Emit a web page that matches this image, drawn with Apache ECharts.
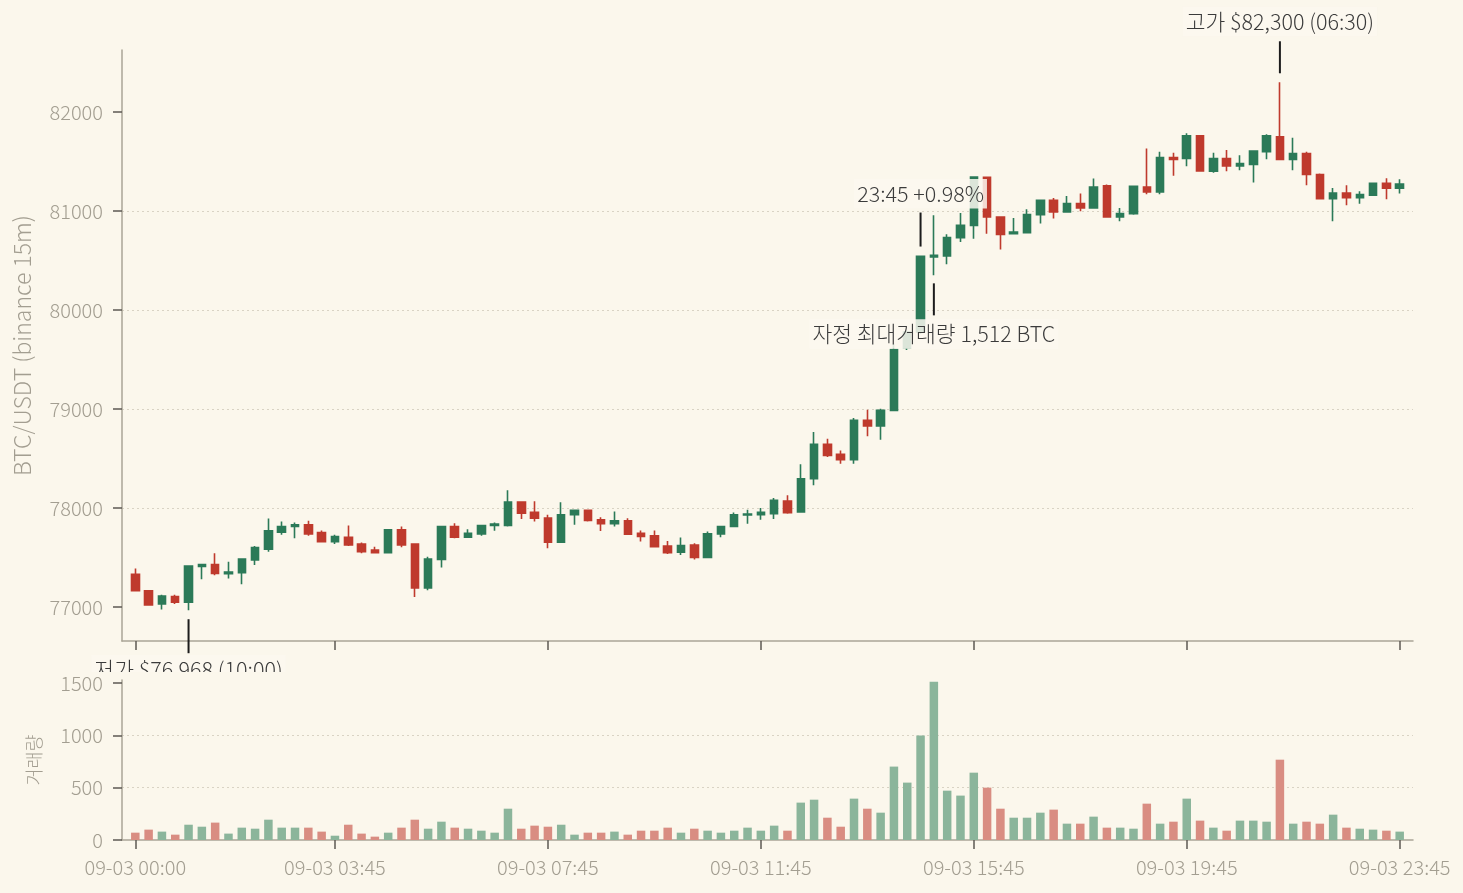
<!DOCTYPE html>
<html>
<head>
<meta charset="utf-8">
<script src="https://cdn.jsdelivr.net/npm/echarts@6/dist/echarts.min.js"></script>
<style>
  html, body { margin: 0; padding: 0; background: #fbf7ec; }
  #chart { width: 1463px; height: 893px; }
</style>
</head>
<body>
<div id="chart"></div>
<script>
// BTC/USDT 15m, 09-03 00:00 .. 23:45 (96 bars)
var openP = [77330,77165,77030,77105,77050,77410,77430,77336,77346,77475,77583,77756,77814,77831,77753,77661,
  77705,77637,77576,77549,77780,77637,77193,77481,77814,77705,77739,77825,77824,78061,77956,77898,
  77654,77932,77976,77881,77841,77871,77746,77719,77617,77553,77627,77502,77739,77814,77929,77932,
  77943,78071,77960,78296,78643,78542,78488,78886,78828,78986,79620,79778,80535,80545,80731,80855,
  81340,80940,80771,80781,80963,81108,80990,81074,81030,81254,80940,80973,81243,81193,81540,81530,
  81760,81402,81530,81456,81470,81600,81750,81520,81581,81368,81125,81182,81135,81160,81280,81230];
var closeP = [77165,77020,77110,77050,77414,77430,77340,77353,77485,77600,77770,77814,77831,77739,77661,77712,
  77627,77559,77549,77780,77627,77193,77485,77814,77705,77746,77824,77837,78061,77949,77898,77654,
  77932,77976,77875,77841,77871,77736,77712,77610,77549,77620,77502,77739,77814,77932,77939,77956,
  78077,77953,78296,78643,78532,78488,78886,78828,78986,79600,79778,80542,80552,80731,80855,81344,
  80940,80764,80787,80963,81108,80990,81074,81030,81243,80940,80973,81250,81193,81540,81520,81760,
  81405,81530,81456,81480,81605,81760,81520,81581,81368,81125,81182,81135,81165,81280,81230,81273];
var lowP = [77160,77015,76975,77030,76968,77280,77322,77288,77231,77424,77559,77729,77695,77719,77651,77637,
  77617,77542,77542,77549,77603,77102,77169,77400,77695,77703,77719,77770,77814,77888,77864,77593,
  77654,77831,77864,77769,77814,77729,77661,77603,77536,77525,77481,77502,77705,77814,77841,77881,
  77888,77943,77960,78229,78515,78448,78448,78724,78690,78986,79596,79760,80350,80461,80687,80720,
  80770,80612,80764,80781,80873,80923,80990,80997,81030,80940,80896,80963,81170,81170,81355,81452,
  81405,81385,81402,81412,81287,81523,81520,81412,81260,81125,80896,81057,81074,81160,81118,81176];
var highP = [77390,77170,77125,77125,77420,77432,77542,77458,77488,77617,77895,77864,77854,77871,77773,77729,
  77824,77651,77610,77782,77814,77640,77508,77816,77847,77786,77826,77854,78180,78063,78068,77932,
  78058,77978,77983,77908,77966,77898,77773,77773,77668,77702,77644,77763,77820,77956,77983,78000,
  78102,78128,78441,78768,78700,78582,78909,78993,79003,79660,79790,80550,80956,80764,80980,81350,
  81345,80942,80929,81017,81110,81132,81152,81176,81328,81267,81030,81252,81632,81598,81588,81784,
  81767,81588,81615,81564,81612,81774,82300,81740,81598,81378,81233,81260,81200,81282,81330,81320];
var volume = [70,99,80,51,146,127,166,61,118,108,194,118,118,118,80,41,
  146,61,32,70,118,194,108,175,118,108,89,70,299,108,137,127,
  146,51,70,70,80,51,89,89,118,70,108,89,70,89,118,89,
  137,89,357,385,213,127,395,299,261,701,548,997,1512,471,424,643,
  500,299,213,213,261,290,156,156,223,118,118,108,347,156,175,395,
  185,118,89,185,185,175,767,156,175,156,242,118,108,99,89,80];

var xTickIdx = [0, 15, 31, 47, 63, 79, 95];
var xTickLabels = ['09-03 00:00', '09-03 03:45', '09-03 07:45', '09-03 11:45', '09-03 15:45', '09-03 19:45', '09-03 23:45'];
var priceTicks = [77000, 78000, 79000, 80000, 81000, 82000];
var volTicks = [0, 500, 1000, 1500];

var BG = '#fbf7ec';
var UP = '#2b7a58';
var DOWN = '#bf3a2d';
var UP_VOL = '#8bb59b';
var DOWN_VOL = '#d98d82';
var FONT = "'Noto Sans CJK KR', 'Noto Sans', sans-serif";
var TICK_TXT = '#a39e91';
var AXIS_LINE = '#aaa597';
var NOTE = '#3b3b3b';

var candles = [];
var vols = [];
for (var i = 0; i < openP.length; i++) {
  candles.push([i, openP[i], closeP[i], lowP[i], highP[i]]);
  vols.push({
    value: [i, volume[i]],
    itemStyle: { color: closeP[i] >= openP[i] ? UP_VOL : DOWN_VOL }
  });
}

function note(coord, text, above, offs, len, dist) {
  return {
    coord: coord,
    symbol: 'rect',
    symbolSize: [2, len],
    symbolOffset: [0, above ? -offs : offs],
    itemStyle: { color: '#1c1c1c' },
    label: {
      show: true,
      position: above ? 'top' : 'bottom',
      distance: dist,
      formatter: text,
      color: NOTE,
      fontFamily: FONT,
      fontWeight: 300,
      fontSize: 21.5,
      backgroundColor: 'rgba(251,248,240,0.85)',
      padding: [4, 3, 4, 3]
    }
  };
}

var plain = function (v) { return String(v); };

var chart = echarts.init(document.getElementById('chart'), null, { renderer: 'canvas' });

var option = {
  backgroundColor: BG,
  animation: false,
  textStyle: { fontFamily: FONT },
  graphic: [{
    type: 'rect',
    z: 6,
    silent: true,
    shape: { x: 0, y: 672, width: 1463, height: 221 },
    style: { fill: BG }
  }],
  grid: [
    { left: 122, right: 50, top: 50, height: 591, outerBoundsMode: 'none' },
    { left: 122, right: 50, top: 680, height: 160, outerBoundsMode: 'none' }
  ],
  xAxis: [{
    type: 'value', gridIndex: 0, min: -1, max: 96,
    axisLine: { show: true, onZero: false, lineStyle: { color: AXIS_LINE, width: 1.5 } },
    axisTick: { show: true, length: 9, customValues: xTickIdx, lineStyle: { color: '#5d5a53', width: 1.5 } },
    axisLabel: { show: false },
    splitLine: { show: false }
  }, {
    type: 'value', gridIndex: 1, min: -1, max: 96, z: 10,
    axisLine: { show: true, onZero: false, lineStyle: { color: AXIS_LINE, width: 1.5 } },
    axisTick: { show: true, length: 9, customValues: xTickIdx, lineStyle: { color: '#5d5a53', width: 1.5 } },
    axisLabel: {
      show: true, customValues: xTickIdx, margin: 17,
      color: TICK_TXT, fontSize: 20, fontFamily: FONT, fontWeight: 300,
      formatter: function (v) { return xTickLabels[xTickIdx.indexOf(Math.round(v))] || ''; }
    },
    splitLine: { show: false }
  }],
  yAxis: [{
    type: 'value', gridIndex: 0, min: 76657, max: 82626,
    minInterval: 1000, maxInterval: 1000,
    name: 'BTC/USDT (binance 15m)', nameLocation: 'middle', nameGap: 88, nameRotate: 90,
    nameTextStyle: { color: TICK_TXT, fontSize: 23, fontFamily: FONT, fontWeight: 300 },
    axisLine: { show: true, onZero: false, lineStyle: { color: AXIS_LINE, width: 1.5 } },
    axisTick: { show: true, length: 9, customValues: priceTicks, lineStyle: { color: '#5d5a53', width: 1.5 } },
    axisLabel: { customValues: priceTicks, formatter: plain, margin: 19, color: TICK_TXT, fontSize: 20, fontFamily: FONT, fontWeight: 300 },
    splitLine: { show: true, showMinLine: false, showMaxLine: false, lineStyle: { color: '#d9d3c4', type: [2, 3], width: 1 } }
  }, {
    type: 'value', gridIndex: 1, min: 0, max: 1528, interval: 500, z: 10,
    name: '거래량', nameLocation: 'middle', nameGap: 79, nameRotate: 90,
    nameTextStyle: { color: TICK_TXT, fontSize: 18.5, fontFamily: FONT, fontWeight: 300 },
    axisLine: { show: true, onZero: false, lineStyle: { color: AXIS_LINE, width: 1.5 } },
    axisTick: { show: true, length: 9, customValues: volTicks, lineStyle: { color: '#5d5a53', width: 1.5 } },
    axisLabel: { customValues: volTicks, formatter: plain, margin: 19, color: TICK_TXT, fontSize: 20, fontFamily: FONT, fontWeight: 300 },
    splitLine: { show: true, showMinLine: false, showMaxLine: false, lineStyle: { color: '#d9d3c4', type: [2, 3], width: 1 } }
  }],
  series: [{
    type: 'candlestick',
    xAxisIndex: 0, yAxisIndex: 0,
    data: candles,
    encode: { x: 0, y: [1, 2, 3, 4] },
    barWidth: 8,
    itemStyle: { color: UP, color0: DOWN, borderColor: UP, borderColor0: DOWN, borderWidth: 1.6 },
    emphasis: { disabled: true },
    markPoint: {
      z: 5,
      animation: false,
      data: [
        note([86, 82300], '고가 $82,300 (06:30)', true, 25, 32, 5),
        note([59, 80550], '23:45 +0.98%', true, 26, 34, 4),
        note([60, 80350], '자정 최대거래량 1,512 BTC', false, 24, 32, 4),
        note([4, 76968], '저가 $76,968 (10:00)', false, 26, 34, 2)
      ]
    }
  }, {
    type: 'bar',
    xAxisIndex: 1, yAxisIndex: 1,
    z: 10,
    data: vols,
    barWidth: 8.5,
    emphasis: { disabled: true }
  }]
};

chart.setOption(option);
</script>
</body>
</html>
